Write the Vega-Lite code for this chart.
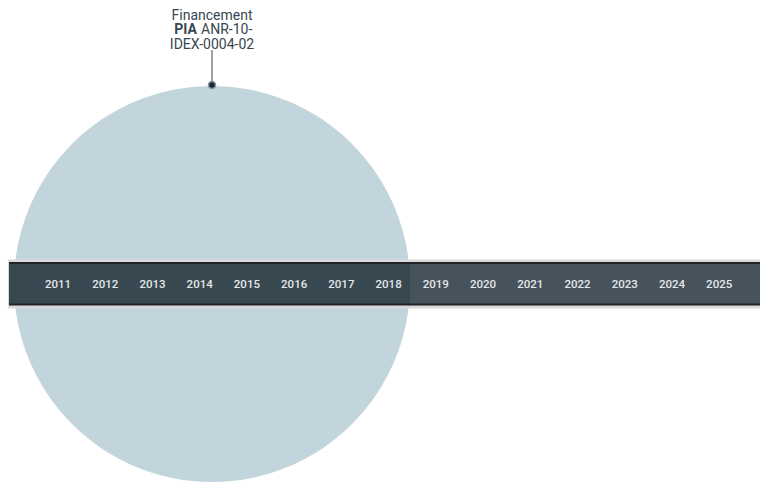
{
  "$schema": "https://vega.github.io/schema/vega-lite/v6.json",
  "width": 760,
  "height": 483,
  "padding": 0,
  "autosize": "none",
  "background": "white",
  "config": {"view": {"stroke": null}},
  "datasets": {
    "circle": [{"year": 2014.261, "pos": 0}],
    "bands": [
      {"part": "border", "x0": 2009.94, "x1": 2025.864, "y0": -24.5, "y1": 24.5},
      {"part": "edge", "x0": 2009.963, "x1": 2025.864, "y0": -21.5, "y1": 22},
      {"part": "funded", "x0": 2009.963, "x1": 2018.453, "y0": -19.5, "y1": 20},
      {"part": "future", "x0": 2018.453, "x1": 2025.864, "y0": -19.5, "y1": 20}
    ],
    "years": [
      {"year": 2011}, {"year": 2012}, {"year": 2013}, {"year": 2014}, {"year": 2015},
      {"year": 2016}, {"year": 2017}, {"year": 2018}, {"year": 2019}, {"year": 2020},
      {"year": 2021}, {"year": 2022}, {"year": 2023}, {"year": 2024}, {"year": 2025}
    ],
    "stem": [{"year": 2014.261, "p0": 199, "p1": 234}],
    "labelsCenter": [
      {"year": 2014.261, "pos": 268.5, "txt": "Financement"},
      {"year": 2014.261, "pos": 239, "txt": "IDEX-0004-02"}
    ],
    "labelsBold": [{"year": 2013.943, "pos": 253.75, "txt": "PIA"}],
    "labelsLeft": [{"year": 2014.03, "pos": 253.75, "txt": "ANR-10-"}]
  },
  "layer": [
    {
      "data": {"name": "circle"},
      "mark": {"type": "point", "shape": "circle", "filled": true, "opacity": 1, "color": "#c2d4dc", "size": 156816},
      "encoding": {
        "x": {"field": "year", "type": "quantitative", "scale": {"domain": [2009.772, 2025.864], "nice": false, "zero": false}, "axis": null},
        "y": {"field": "pos", "type": "quantitative", "scale": {"domain": [-199, 284], "nice": false, "zero": false}, "axis": null}
      }
    },
    {
      "data": {"name": "bands"},
      "mark": {"type": "rect"},
      "encoding": {
        "x": {"field": "x0", "type": "quantitative"},
        "x2": {"field": "x1"},
        "y": {"field": "y0", "type": "quantitative"},
        "y2": {"field": "y1"},
        "color": {"field": "part", "type": "nominal", "legend": null,
          "scale": {"domain": ["border", "edge", "funded", "future"], "range": ["#d9d9d9", "#1e2428", "#384851", "#46525c"]}}
      }
    },
    {
      "data": {"name": "years"},
      "mark": {"type": "text", "font": "Roboto", "fontSize": 11.5, "fontWeight": 500, "color": "#e4e8ea", "baseline": "middle", "align": "center"},
      "encoding": {
        "x": {"field": "year", "type": "quantitative"},
        "y": {"datum": -1, "type": "quantitative"},
        "text": {"field": "year", "type": "nominal"}
      }
    },
    {
      "data": {"name": "stem"},
      "mark": {"type": "rule", "color": "#37474f", "strokeWidth": 1},
      "encoding": {
        "x": {"field": "year", "type": "quantitative"},
        "y": {"field": "p0", "type": "quantitative"},
        "y2": {"field": "p1"}
      }
    },
    {
      "data": {"name": "stem"},
      "mark": {"type": "point", "shape": "circle", "filled": true, "opacity": 1, "size": 50, "fill": "#1c2a33", "stroke": "#8a969c", "strokeWidth": 1.5},
      "encoding": {
        "x": {"field": "year", "type": "quantitative"},
        "y": {"field": "p0", "type": "quantitative"}
      }
    },
    {
      "data": {"name": "labelsCenter"},
      "mark": {"type": "text", "font": "Roboto", "fontSize": 14, "color": "#37474f", "baseline": "middle", "align": "center"},
      "encoding": {
        "x": {"field": "year", "type": "quantitative"},
        "y": {"field": "pos", "type": "quantitative"},
        "text": {"field": "txt", "type": "nominal"}
      }
    },
    {
      "data": {"name": "labelsBold"},
      "mark": {"type": "text", "font": "Roboto", "fontSize": 14, "fontWeight": "bold", "color": "#37474f", "baseline": "middle", "align": "right"},
      "encoding": {
        "x": {"field": "year", "type": "quantitative"},
        "y": {"field": "pos", "type": "quantitative"},
        "text": {"field": "txt", "type": "nominal"}
      }
    },
    {
      "data": {"name": "labelsLeft"},
      "mark": {"type": "text", "font": "Roboto", "fontSize": 14, "color": "#37474f", "baseline": "middle", "align": "left"},
      "encoding": {
        "x": {"field": "year", "type": "quantitative"},
        "y": {"field": "pos", "type": "quantitative"},
        "text": {"field": "txt", "type": "nominal"}
      }
    }
  ]
}
